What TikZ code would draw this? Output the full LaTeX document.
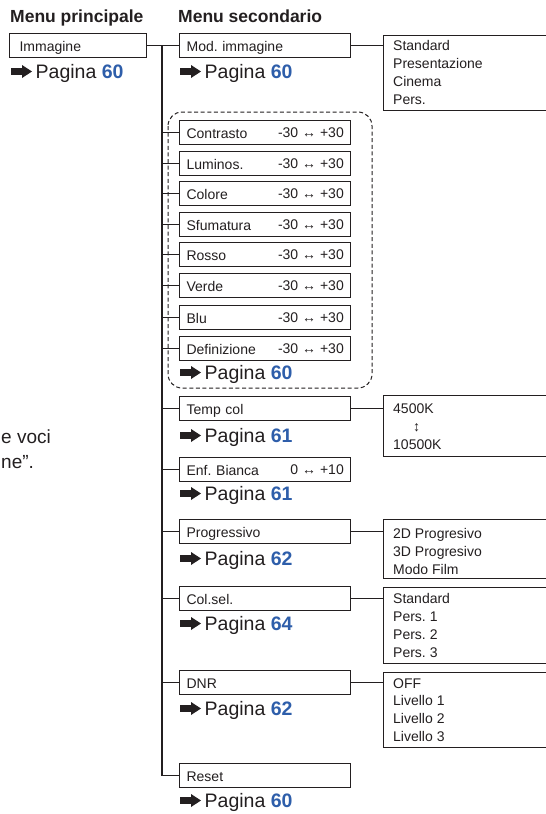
\documentclass[tikz,border=0pt]{standalone}
\usepackage{fontspec}
\setmainfont{Liberation Sans}
\frenchspacing
\definecolor{ink}{RGB}{35,31,32}
\definecolor{pblue}{RGB}{46,94,170}
\tikzset{
  lbl/.style={font=\fontsize{14}{18}\selectfont, text=ink, inner sep=0pt, anchor=base west},
  sbox/.style={draw=ink, line width=1.2pt, minimum width=171pt, minimum height=24pt,
    text width=157pt, inner xsep=7pt, inner ysep=0pt, text height=11pt, text depth=0pt,
    align=left, anchor=north west, font=\fontsize{14}{18}\selectfont, text=ink},
  rbox/.style={draw=ink, line width=1.2pt, anchor=north west, minimum width=200pt, inner sep=0pt},
  conn/.style={draw=ink, line width=1.5pt},
  pg/.style={font=\fontsize{19.5}{22}\selectfont, text=ink, inner sep=0pt, anchor=base west},
  ttl/.style={font=\fontsize{17.5}{20}\selectfont\bfseries, text=ink, inner sep=0pt, anchor=base west},
  val/.style={font=\fontsize{14}{18}\selectfont, text=ink, inner sep=0pt, anchor=base east},
  side/.style={font=\fontsize{19}{26}\selectfont, text=ink, inner sep=0pt, anchor=base west},
}
\newcommand\pagina[4]{%
  \fill[ink] (#2,#3-6.5-3.3) -- ++(11,0) -- ++(0,-3.2) -- ++(10,6.5) -- ++(-10,6.5) -- ++(0,-3.2) -- ++(-11,0) -- cycle;
  \node[pg] (#1) at (#2+24.5,#3) {Pagina \textbf{\color{pblue}#4}};%
}
\begin{document}
\begin{tikzpicture}[x=1pt,y=-1pt]
\clip (0,0) rectangle (546,814);
\fill[white] (0,0) rectangle (546,814);

% titles
\node[ttl] (t1) at (10,22) {Menu principale};
\node[ttl] (t2) at (178,22) {Menu secondario};

% main menu
\node[sbox, minimum width=137pt, text width=117pt, inner xsep=10pt] (imm) at (9,33) {Immagine};
\pagina{pimm}{11}{78}{60}

% side text fragment
\node[side] (s1) at (1,443) {e voci};
\node[side] (s2) at (1,468) {ne”.};

% secondary boxes
\node[sbox] (mod) at (179,33) {Mod. immagine};
\pagina{pmod}{180}{78}{60}

\node[sbox] (b1) at (179,120) {Contrasto};
\node[sbox] (b2) at (179,151) {Luminos.};
\node[sbox] (b3) at (179,181) {Colore};
\node[sbox] (b4) at (179,212) {Sfumatura};
\node[sbox] (b5) at (179,242) {Rosso};
\node[sbox] (b6) at (179,273) {Verde};
\node[sbox] (b7) at (179,305) {Blu};
\node[sbox] (b8) at (179,336) {Definizione};
\foreach \i/\t in {1/120,2/151,3/181,4/212,5/242,6/273,7/305,8/336}{
  \node[val] (v\i) at (344,\t+17.5) {-30 ↔ +30};
}
\pagina{pdash}{180}{379}{60}
\draw[ink, line width=1pt, dash pattern=on 4pt off 2.6pt, rounded corners=14pt] (168,112) rectangle (372,388);

\node[sbox] (temp) at (179,396) {Temp col};
\pagina{ptemp}{180}{442}{61}
\node[sbox] (enf) at (179,457) {Enf. Bianca};
\node[val] (venf) at (344,474.5) {0 ↔ +10};
\pagina{penf}{180}{500}{61}
\node[sbox] (prog) at (179,519) {Progressivo};
\pagina{pprog}{180}{565}{62}
\node[sbox] (col) at (179,586) {Col.sel.};
\pagina{pcol}{180}{630}{64}
\node[sbox] (dnr) at (179,670) {DNR};
\pagina{pdnr}{180}{715}{62}
\node[sbox] (reset) at (179,763) {Reset};
\pagina{preset}{180}{807}{60}

% right boxes
\node[rbox, minimum height=75pt] (rmod) at (383,35) {};
\foreach \i/\t in {1/Standard,2/Presentazione,3/Cinema,4/Pers.}{
  \node[lbl] (rm\i) at (393,50+18*\i-18) {\t};
}
\node[rbox, minimum height=61pt] (rtemp) at (383,395) {};
\node[lbl] (rt1) at (393,413) {4500K};
\node[lbl] (rt2) at (413,431) {↕};
\node[lbl] (rt3) at (393,449) {10500K};

\node[rbox, minimum height=59pt] (rprog) at (383,519) {};
\foreach \i/\t in {1/2D Progresivo,2/3D Progresivo,3/Modo Film}{
  \node[lbl] (rp\i) at (393,538+18*\i-18) {\t};
}
\node[rbox, minimum height=76pt] (rcol) at (383,587) {};
\foreach \i/\t in {1/Standard,2/Pers. 1,3/Pers. 2,4/Pers. 3}{
  \node[lbl] (rc\i) at (393,603+18.3*\i-18.3) {\t};
}
\node[rbox, minimum height=75pt] (rdnr) at (383,672) {};
\foreach \i/\t in {1/OFF,2/Livello 1,3/Livello 2,4/Livello 3}{
  \node[lbl] (rd\i) at (393,688+17.8*\i-17.8) {\t};
}

% connectors
\coordinate (spine) at (162,45);
\draw[conn] (imm.east) -- (mod.west);
\draw[conn] (spine) |- (reset.west);
\foreach \n in {b1,b2,b3,b4,b5,b6,b7,b8,temp,enf,prog,col,dnr}{
  \draw[conn] (\n.west -| spine) -- (\n.west);
}
\draw[conn] (mod.east) -- (mod.east -| rmod.west);
\draw[conn] (temp.east) -- (temp.east -| rtemp.west);
\draw[conn] (prog.east) -- (prog.east -| rprog.west);
\draw[conn] (col.east) -- (col.east -| rcol.west);
\draw[conn] (dnr.east) -- (dnr.east -| rdnr.west);
\end{tikzpicture}
\end{document}
